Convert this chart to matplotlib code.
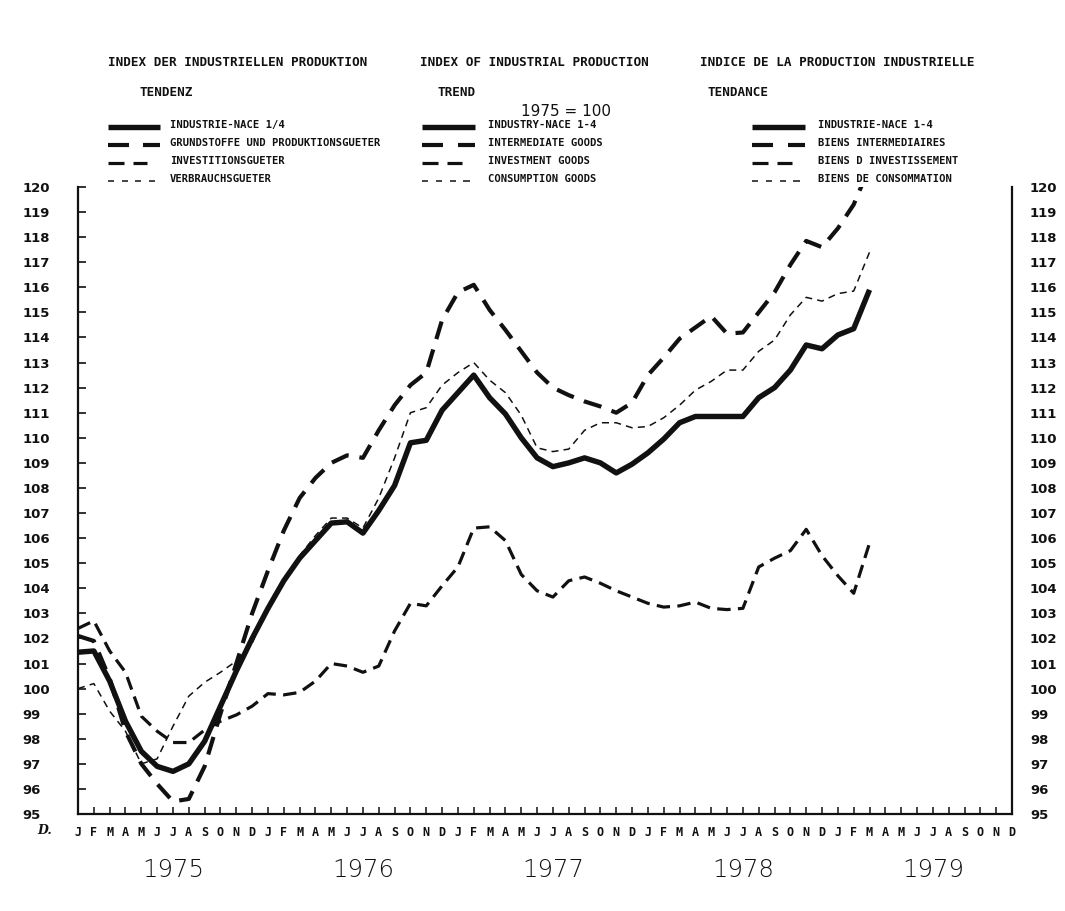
import matplotlib
matplotlib.use("Agg")
import matplotlib.pyplot as plt
import matplotlib.transforms as mtransforms
from matplotlib.lines import Line2D
import numpy as np

# ---------------- data (monthly, Jan 1975 .. Mar 1979) ----------------
industry = [101.45, 101.5, 100.3, 98.7, 97.5, 96.9, 96.7, 97.0, 97.9, 99.3,
            100.7, 102.0, 103.2, 104.3, 105.2, 105.9, 106.6, 106.65, 106.2, 107.1,
            108.1, 109.8, 109.9, 111.1, 111.8, 112.5, 111.6, 110.95, 110.0, 109.2,
            108.85, 109.0, 109.2, 109.0, 108.6, 108.95, 109.4, 109.95, 110.6, 110.85,
            110.85, 110.85, 110.85, 111.6, 112.0, 112.7, 113.7, 113.55, 114.1, 114.35,
            115.9]
intermediate = [102.1, 101.9, 100.4, 98.3, 97.0, 96.2, 95.5, 95.6, 96.9, 99.0,
                101.0, 103.0, 104.7, 106.3, 107.6, 108.4, 109.0, 109.3, 109.2, 110.3,
                111.3, 112.1, 112.6, 114.7, 115.8, 116.1, 115.1, 114.3, 113.45, 112.6,
                112.0, 111.7, 111.45, 111.25, 111.0, 111.4, 112.5, 113.2, 113.95, 114.4,
                114.85, 114.15, 114.2, 115.0, 115.8, 116.9, 117.85, 117.6, 118.35, 119.3,
                120.8]
investment = [102.4, 102.7, 101.5, 100.65, 98.9, 98.3, 97.85, 97.85, 98.35, 98.7,
              98.95, 99.3, 99.8, 99.75, 99.85, 100.3, 101.0, 100.9, 100.65, 100.9,
              102.3, 103.4, 103.3, 104.1, 104.85, 106.4, 106.45, 105.9, 104.55, 103.9,
              103.65, 104.3, 104.45, 104.2, 103.9, 103.65, 103.4, 103.25, 103.3, 103.45,
              103.2, 103.15, 103.2, 104.85, 105.2, 105.5, 106.35, 105.3, 104.5, 103.8,
              105.8]
consumption = [100.0, 100.2, 99.1, 98.3, 97.0, 97.2, 98.5, 99.7, 100.25, 100.65,
               101.1, 101.8, 103.3, 104.4, 105.3, 106.1, 106.8, 106.8, 106.4, 107.6,
               109.2, 111.0, 111.2, 112.1, 112.6, 113.0, 112.3, 111.8, 110.9, 109.6,
               109.45, 109.55, 110.3, 110.6, 110.6, 110.4, 110.45, 110.8, 111.3, 111.9,
               112.25, 112.7, 112.7, 113.45, 113.9, 114.9, 115.6, 115.45, 115.75, 115.85,
               117.4]
month_labels = list("JFMAMJJASOND") * 5
year_labels = ["1975", "1976", "1977", "1978", "1979"]
y_ticks = list(range(95, 121))

title_de = "INDEX DER INDUSTRIELLEN PRODUKTION"
title_en = "INDEX OF INDUSTRIAL PRODUCTION"
title_fr = "INDICE DE LA PRODUCTION INDUSTRIELLE"
sub_de, sub_en, sub_fr = "TENDENZ", "TREND", "TENDANCE"
base_text = "1975 = 100"
legend_de = ["INDUSTRIE-NACE 1/4", "GRUNDSTOFFE UND PRODUKTIONSGUETER",
             "INVESTITIONSGUETER", "VERBRAUCHSGUETER"]
legend_en = ["INDUSTRY-NACE 1-4", "INTERMEDIATE GOODS", "INVESTMENT GOODS",
             "CONSUMPTION GOODS"]
legend_fr = ["INDUSTRIE-NACE 1-4", "BIENS INTERMEDIAIRES", "BIENS D INVESTISSEMENT",
             "BIENS DE CONSOMMATION"]

# ---------------- styles ----------------
INK = "#111111"
styles = [
    dict(lw=3.9, ls="-"),
    dict(lw=3.0, dashes=(4.4, 2.6)),
    dict(lw=2.3, dashes=(4.2, 2.3)),
    dict(lw=1.1, dashes=(4.6, 3.4)),
]
# legend sample segments as fractions of the sample length
legend_segments = [
    [(0.0, 1.0)],
    [(0.0, 0.40), (0.68, 1.0)],
    [(0.0, 0.30), (0.48, 0.75)],
    [(0.0, 0.12), (0.26, 0.38), (0.52, 0.64), (0.78, 0.90)],
]

W, H = 1065, 911
fig = plt.figure(figsize=(W / 100, H / 100), dpi=100)
fig.patch.set_facecolor("white")

ax_l, ax_r, ax_top, ax_bot = 78, 1012, 187, 814
ax = fig.add_axes([ax_l / W, (H - ax_bot) / H, (ax_r - ax_l) / W, (ax_bot - ax_top) / H])
ax.set_facecolor("white")
ax.set_xlim(0, 59)
ax.set_ylim(95, 120)

series = [industry, intermediate, investment, consumption]
for vals, st in zip(series, styles):
    x = np.arange(len(vals))
    if "dashes" in st:
        ax.plot(x, vals, color=INK, lw=st["lw"], dashes=st["dashes"],
                dash_capstyle="butt", solid_joinstyle="round")
    else:
        ax.plot(x, vals, color=INK, lw=st["lw"], ls="-",
                solid_capstyle="butt", solid_joinstyle="round")

# spines
ax.spines["top"].set_visible(False)
for s in ("left", "right", "bottom"):
    ax.spines[s].set_linewidth(1.6)
    ax.spines[s].set_color(INK)

# y ticks (left: inward ticks, labels left aligned)
ax.set_yticks(y_ticks)
ax.set_yticklabels([str(v) for v in y_ticks])
ax.tick_params(axis="y", direction="in", length=6, width=1.2, color=INK,
               left=True, right=False, pad=40, labelsize=9.5)
for lbl in ax.get_yticklabels():
    lbl.set_horizontalalignment("left")
    lbl.set_fontweight("bold")
    lbl.set_color(INK)

ax2 = ax.twinx()
ax2.set_ylim(95, 120)
ax2.set_yticks(y_ticks)
ax2.set_yticklabels([str(v) for v in y_ticks])
ax2.tick_params(axis="y", length=0, pad=13, labelsize=9.5)
for s in ax2.spines.values():
    s.set_visible(False)
for lbl in ax2.get_yticklabels():
    lbl.set_fontweight("bold")
    lbl.set_color(INK)

# x ticks
ax.set_xticks(range(len(month_labels)))
ax.set_xticklabels(month_labels, fontfamily="DejaVu Sans Mono", fontweight="bold",
                   fontsize=8.5, color=INK)
ax.tick_params(axis="x", direction="in", length=5, width=1.1, color=INK, pad=9)

# year labels
trans = mtransforms.blended_transform_factory(ax.transData, ax.transAxes)
for k, yl in enumerate(year_labels):
    ax.text(6 + 12 * k, -0.089, yl, transform=trans, ha="center", va="center",
            fontsize=17.5, color=INK, fontfamily="DejaVu Sans", fontweight="light",
            clip_on=False)

fig.text(45 / W, (H - 830) / H, "D.", ha="center", va="center", fontsize=9,
         fontweight="bold", fontstyle="italic", color=INK, fontfamily="DejaVu Serif")

# ---------------- header ----------------
def fy(py):
    return (H - py) / H

hdr = dict(fontfamily="DejaVu Sans Mono", fontsize=9.1, fontweight="bold", color=INK,
           va="center", ha="left")
fig.text(108 / W, fy(62), title_de, **hdr)
fig.text(420 / W, fy(62), title_en, **hdr)
fig.text(700 / W, fy(62), title_fr, **hdr)
fig.text(140 / W, fy(92), sub_de, **hdr)
fig.text(437 / W, fy(92), sub_en, **hdr)
fig.text(708 / W, fy(92), sub_fr, **hdr)
fig.text(566 / W, fy(111), base_text, ha="center", va="center", fontsize=11,
         fontfamily="DejaVu Sans", color=INK)

leg_rows = [127, 145, 163, 181]
cols = [(108, 160, 170, legend_de), (422, 475, 488, legend_en), (752, 805, 818, legend_fr)]
for x0, x1, xt, labels in cols:
    for py, lab, st, segs in zip(leg_rows, labels, styles, legend_segments):
        for a, b in segs:
            xa = x0 + a * (x1 - x0)
            xb = x0 + b * (x1 - x0)
            fig.add_artist(Line2D([xa / W, xb / W], [fy(py), fy(py)], color=INK,
                                  lw=st["lw"], solid_capstyle="butt",
                                  transform=fig.transFigure))
        fig.text(xt / W, fy(py - 2), lab, fontfamily="DejaVu Sans Mono", fontsize=7.6,
                 fontweight="bold", color=INK, va="center", ha="left")

fig.savefig("out.png", dpi=100, facecolor="white")
